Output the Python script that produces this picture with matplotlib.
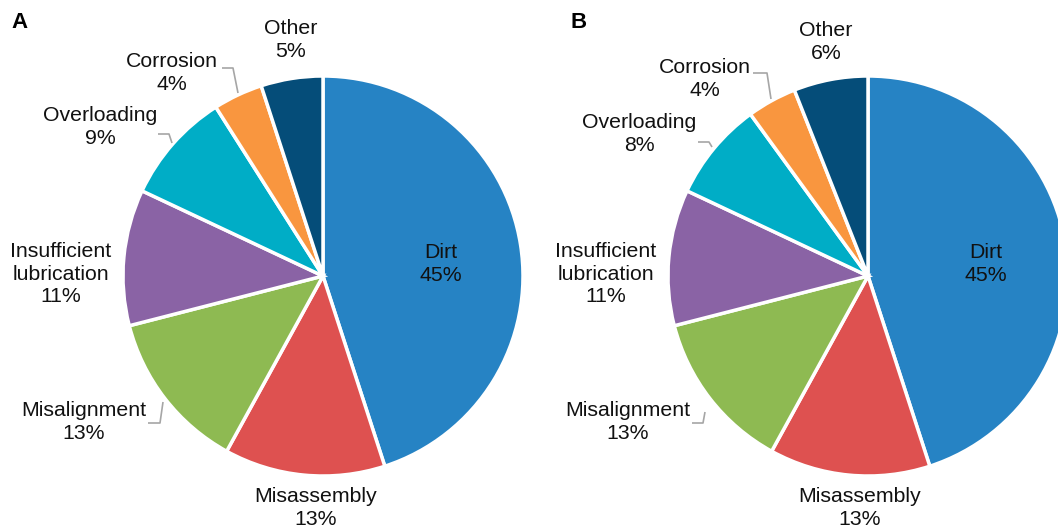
import matplotlib
matplotlib.use("Agg")
import matplotlib.pyplot as plt

plt.rcParams['font.family'] = ['Liberation Sans', 'DejaVu Sans']

categories = ["Dirt", "Misassembly", "Misalignment", "Insufficient\nlubrication",
              "Overloading", "Corrosion", "Other"]
values_a = [45, 13, 13, 11, 9, 4, 5]
values_b = [45, 13, 13, 11, 8, 4, 6]
colors = ["#2683C4", "#DE5150", "#8EBA52", "#8A63A5", "#00ADC6", "#F9963F", "#054D79"]

W, H = 1058, 529
fig = plt.figure(figsize=(W / 100, H / 100), dpi=100)
ax = fig.add_axes([0, 0, 1, 1])

def Y(y):
    return H - y

def draw(values, cx, cy, label_pos, leaders, panel, panel_pos):
    ax.pie(values, colors=colors, startangle=90, counterclock=False,
           center=(cx, Y(cy)), radius=200, frame=True,
           wedgeprops=dict(edgecolor="white", linewidth=2.5))
    for cat, v, (lx, ly) in zip(categories, values, label_pos):
        ax.text(lx, Y(ly), f"{cat}\n{v}%", ha="center", va="center",
                fontsize=15.3, linespacing=1.22, color="#111111")
    for pts in leaders:
        xs = [p[0] for p in pts]
        ys = [Y(p[1]) for p in pts]
        ax.plot(xs, ys, color="#A6A6A6", lw=1.2, solid_capstyle="butt")
    ax.text(panel_pos[0], Y(panel_pos[1]), panel, ha="left", va="center",
            fontsize=16, fontweight="bold")

label_a = [(441, 264), (316, 508), (84, 422), (61, 274), (100, 127), (172, 73), (291, 40)]
lead_a = [[(222, 68), (233, 68), (238, 93)],
          [(158, 134), (169, 134), (172, 143)],
          [(163, 402), (160, 423), (148, 423)]]
draw(values_a, 323, 276, label_a, lead_a, "A", (11, 23))

label_b = [(986, 264), (860, 508), (628, 422), (606, 274), (639, 134), (705, 79), (826, 42)]
lead_b = [[(753, 73), (767, 73), (771, 99)],
          [(698, 142), (709, 142), (712, 147)],
          [(705, 412), (703, 423), (692, 423)]]
draw(values_b, 868, 276, label_b, lead_b, "B", (571, 23))

ax.set_xlim(0, W)
ax.set_ylim(0, H)
ax.set_aspect("auto")
ax.axis("off")

fig.savefig("out.png", dpi=100)
